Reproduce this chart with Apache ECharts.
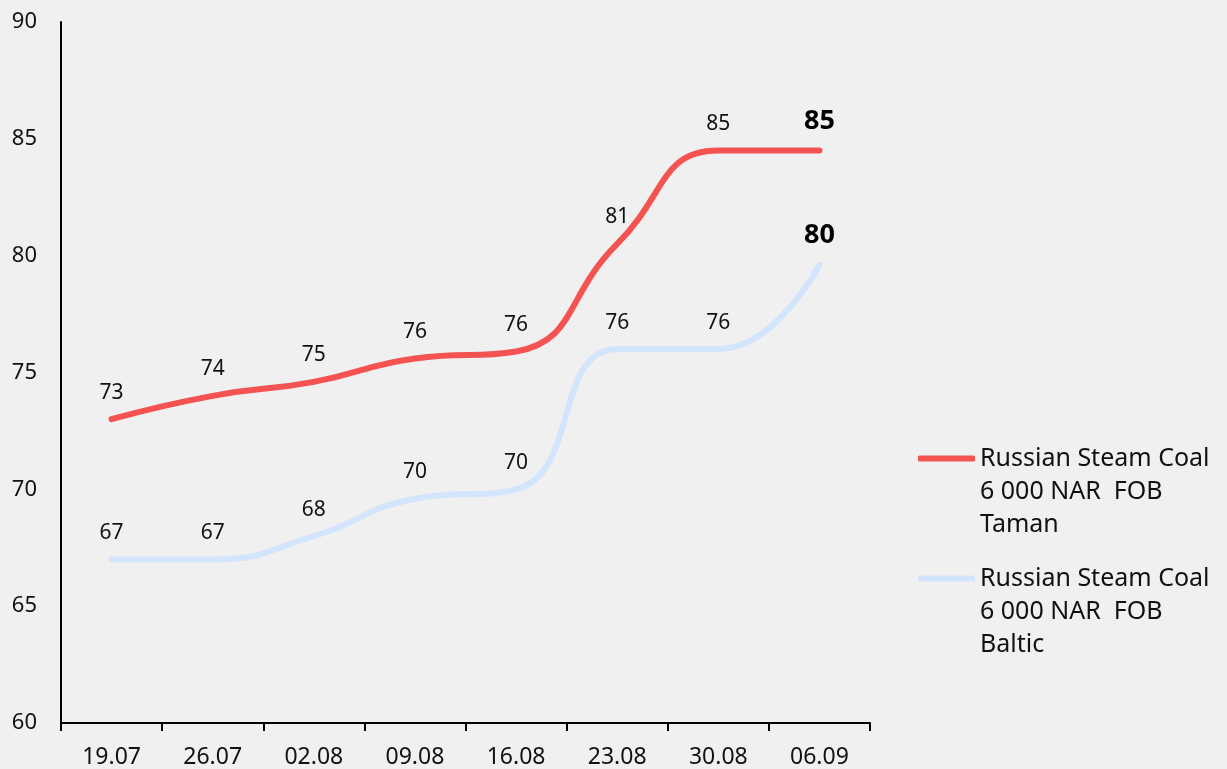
<!DOCTYPE html>
<html>
<head>
<meta charset="utf-8">
<script src="https://cdn.jsdelivr.net/npm/echarts@6/dist/echarts.min.js"></script>
<style>
html,body{margin:0;padding:0;background:#f0f0f0;}
#c{width:1227px;height:769px;}
</style>
</head>
<body>
<div id="c"></div>
<script>
const categories = ['19.07','26.07','02.08','09.08','16.08','23.08','30.08','06.09'];
const tamanValues = [73.0, 74.0, 74.6, 75.6, 75.9, 80.5, 84.5, 84.5];
const balticValues = [67.0, 67.0, 68.0, 69.6, 70.0, 76.0, 76.0, 79.6];
const seriesNames = ['Russian Steam Coal\n6 000 NAR  FOB\nTaman', 'Russian Steam Coal\n6 000 NAR  FOB\nBaltic'];
const yTicks = { min: 60, max: 90, interval: 5 };

const FONT = 'Noto Sans';

function buildData(values) {
  return values.map((v, i) => {
    if (i === values.length - 1) {
      return { value: v, label: { fontSize: 27, fontWeight: 'bold', color: '#000', distance: 16 } };
    }
    return v;
  });
}

function makeSeries(name, values, color) {
  return {
    name: name,
    type: 'line',
    data: buildData(values),
    smooth: 0.5,
    symbol: 'circle',
    symbolSize: 0.1,
    showSymbol: true,
    itemStyle: { color: color },
    lineStyle: { width: 6, color: color, cap: 'round' },
    label: {
      show: true,
      position: 'top',
      distance: 16,
      fontSize: 21,
      fontFamily: FONT,
      color: '#111',
      formatter: p => Math.round(p.value)
    },
    emphasis: { disabled: true }
  };
}

const chart = echarts.init(document.getElementById('c'));
chart.setOption({
  backgroundColor: '#f0f0f0',
  animation: false,
  textStyle: { fontFamily: FONT },
  grid: { left: 61, right: 357, top: 22, bottom: 46, containLabel: false },
  legend: {
    orient: 'vertical',
    left: 918,
    top: 376,
    padding: 0,
    itemWidth: 57,
    itemHeight: 6,
    itemGap: -45,
    icon: 'roundRect',
    textStyle: { fontSize: 25, fontFamily: FONT, color: '#111', lineHeight: 33 },
    formatter: name => '\n\n' + name,
    data: seriesNames
  },
  xAxis: {
    type: 'category',
    data: categories,
    boundaryGap: true,
    axisLine: { lineStyle: { color: '#000', width: 2 } },
    axisTick: { show: true, length: 8, lineStyle: { color: '#000', width: 2 } },
    axisLabel: { fontSize: 23, color: '#111', margin: 23, fontFamily: FONT }
  },
  yAxis: {
    type: 'value',
    min: yTicks.min,
    max: yTicks.max,
    interval: yTicks.interval,
    axisLine: { show: true, lineStyle: { color: '#000', width: 2 } },
    axisTick: { show: false },
    splitLine: { show: false },
    axisLabel: { fontSize: 22, color: '#111', margin: 24, fontFamily: FONT }
  },
  series: [
    makeSeries(seriesNames[0], tamanValues, '#F55252'),
    makeSeries(seriesNames[1], balticValues, '#D3E5FC')
  ]
});
</script>
</body>
</html>
